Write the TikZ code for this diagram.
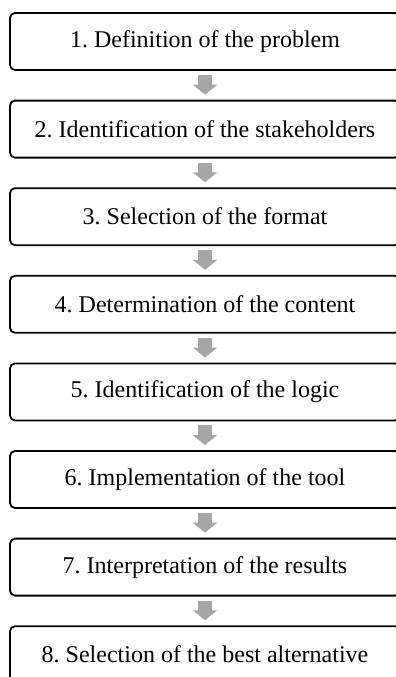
\documentclass[tikz,border=0pt]{standalone}
\usepackage{fontspec}
\setmainfont{Liberation Serif}
\frenchspacing
\usetikzlibrary{arrows.meta}
\begin{document}
\begin{tikzpicture}[x=1pt,y=1pt,
  stepbox/.style={draw=black, line width=1.8pt, rounded corners=5pt,
    minimum width=390pt, minimum height=57pt, inner sep=0pt,
    font=\fontsize{24pt}{28pt}\selectfont},
  flowarrow/.style={draw=black!35, line width=14pt,
    -{Triangle[width=24pt,length=10pt]},
    shorten <=4pt, shorten >=5pt}]
  \useasboundingbox (0,0) rectangle (396,-677);
  \clip (0,0) rectangle (396,-677);
  % process steps, top to bottom
  \foreach \name/\label [count=\k from 0] in {
      s1/{1. Definition of the problem},
      s2/{2. Identification of the stakeholders},
      s3/{3. Selection of the format},
      s4/{4. Determination of the content},
      s5/{5. Identification of the logic},
      s6/{6. Implementation of the tool},
      s7/{7. Interpretation of the results},
      s8/{8. Selection of the best alternative}}
    \node[stepbox] (\name) at (205, {-41.5-87.6*\k}) {\label};
  % block arrows between consecutive steps
  \foreach \a/\b in {s1/s2,s2/s3,s3/s4,s4/s5,s5/s6,s6/s7,s7/s8}
    \draw[flowarrow] (\a.south) -- (\b.north);
\end{tikzpicture}
\end{document}
